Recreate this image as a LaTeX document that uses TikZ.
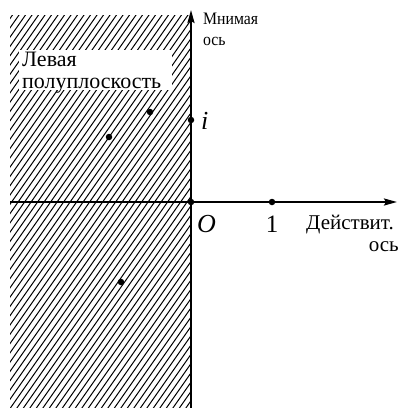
\documentclass[tikz,border=0pt]{standalone}
\usepackage{fontspec}
\setmainfont{Liberation Serif}
\newfontfamily\condserif[FakeStretch=0.9]{Liberation Serif}
\usetikzlibrary{arrows.meta}
\begin{document}
\begin{tikzpicture}[x=1pt,y=-1pt,
  axis/.style={line width=2pt,-{Stealth[length=13pt,width=7pt,inset=2pt]}},
  hatchline/.style={line width=1pt},
  dotpt/.style={circle,fill=black,inner sep=0pt,minimum size=6.5pt},
  lab/.style={inner sep=0pt,anchor=base west,font=\condserif\fontsize{17.5}{19}\selectfont},
  rlab/.style={inner sep=0pt,anchor=base west,font=\fontsize{21}{22}\selectfont},
  biglab/.style={inner sep=0pt,anchor=base west,font=\fontsize{22}{22}\selectfont},
  mathlab/.style={inner sep=0pt,font=\fontsize{26}{28}\selectfont},
]
\useasboundingbox (0,0) rectangle (402,408);
% hatched left half-plane
\begin{scope}
\clip (10,15) rectangle (191,408);
\foreach \c in {10,16.5,...,490} \draw[hatchline] (\c,0) -- (\c-350,500);
\end{scope}
\fill[white] (19,50) rectangle (172,90);
% axes
\coordinate (xl) at (10,202);
\coordinate (xr) at (397,202);
\coordinate (yb) at (191,408);
\coordinate (yt) at (191,10);
\draw[axis] (xl) -- (xr);
\draw[axis] (yb) -- (yt);
% points
\node[dotpt] (O) at (191,202) {};
\node[dotpt] (one) at (272,202) {};
\node[dotpt] (im) at (191,120) {};
\node[dotpt] (za) at (109,137) {};
\node[dotpt] (zb) at (150,112) {};
\node[dotpt] (zc) at (121,282) {};
% labels
\node[lab] (mn1) at (203,24) {Мнимая};
\node[lab] (mn2) at (203,45) {ось};
\node[biglab] (lv1) at (22,66) {Левая};
\node[biglab] (lv2) at (22,88) {полуплоскость};
\node[mathlab,anchor=base west] (ilab) at (201,129) {\itshape i};
\node[mathlab,anchor=base west] (Olab) at (197,232) {\itshape O};
\node[mathlab,anchor=base,font=\fontsize{25}{27}\selectfont] (onelab) at (272,232) {1};
\node[rlab] (dv1) at (306,229) {Действит.};
\node[rlab,anchor=base east] (dv2) at (399,251) {ось};
\end{tikzpicture}
\end{document}
